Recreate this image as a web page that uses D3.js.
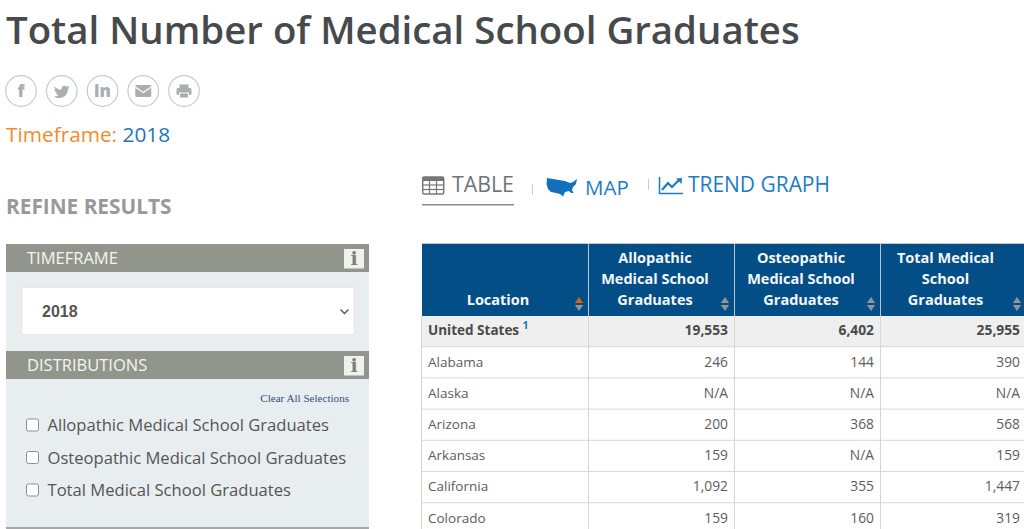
<!DOCTYPE html>
<html>
<head>
<meta charset="utf-8">
<script src="https://cdn.jsdelivr.net/npm/d3@7"></script>
<style>
  html, body { margin: 0; padding: 0; background: #fff; overflow: hidden; }
  svg { display: block; }
  text { font-family: "Open Sans", sans-serif; }
</style>
</head>
<body>
<script>
// Table values
const locations = ['United States', 'Alabama', 'Alaska', 'Arizona', 'Arkansas', 'California', 'Colorado'];
const allopathic = [19553, 246, null, 200, 159, 1092, 159];
const osteopathic = [6402, 144, null, 368, null, 355, 160];
const totalGraduates = [25955, 390, null, 568, 159, 1447, 319];

const columnTitles = [
  ['Location'],
  ['Allopathic', 'Medical School', 'Graduates'],
  ['Osteopathic', 'Medical School', 'Graduates'],
  ['Total Medical', 'School', 'Graduates']
];
const filterOptions = ['Allopathic Medical School Graduates', 'Osteopathic Medical School Graduates', 'Total Medical School Graduates'];

const width = 1024, height = 529;
const svg = d3.select('body').append('svg').attr('width', width).attr('height', height);

const label = (parent, x, y, str, size, fill, weight, anchor) =>
  parent.append('text').attr('x', x).attr('y', y).text(str)
    .attr('font-size', size).attr('fill', fill)
    .attr('font-weight', weight || 400).attr('text-anchor', anchor || 'start');

// Title
label(svg, 6, 44, 'Total Number of Medical School Graduates', 38.4, '#464a4c', 600);

// Share buttons
const iconGrey = '#a9aeb1';
const shareX = d3.scaleLinear().domain([0, 4]).range([21, 184]);
const share = svg.append('g');
share.selectAll('circle').data(d3.range(5)).join('circle')
  .attr('cx', d => shareX(d)).attr('cy', 91).attr('r', 15.3)
  .attr('fill', '#fff').attr('stroke', '#c8cbcc').attr('stroke-width', 1.2);
label(share, shareX(0), 97, 'f', 17, iconGrey, 800, 'middle');
share.append('path')
  .attr('transform', `translate(${shareX(1)},91)`)
  .attr('fill', iconGrey)
  .attr('d', 'M-7.5,-4.5 C-5.5,-2.5 -3,-1.4 -0.4,-1.3 C-0.9,-4.4 2.8,-6.6 5,-4.3 C6,-4.5 6.8,-4.9 7.5,-5.3 C7.2,-4.4 6.7,-3.7 6,-3.1 C6.7,-3.2 7.3,-3.4 8,-3.7 C7.5,-2.9 6.8,-2.3 6.1,-1.8 C6.3,3 2.5,7 -2.5,7 C-4.5,7 -6.3,6.4 -8,5.4 C-6,5.6 -4.2,5.1 -2.9,4 C-4.5,4 -5.7,3 -6.2,1.6 C-5.6,1.7 -5.1,1.7 -4.6,1.5 C-6.2,1.2 -7.4,-0.3 -7.3,-2 C-6.8,-1.7 -6.3,-1.6 -5.8,-1.6 C-7.3,-2.6 -7.8,-4 -7.5,-4.5 Z');
label(share, shareX(2), 97, 'in', 17, iconGrey, 800, 'middle');
share.append('rect').attr('x', shareX(3) - 8).attr('y', 85).attr('width', 16).attr('height', 12).attr('rx', 1.5).attr('fill', iconGrey);
share.append('path').attr('d', `M${shareX(3) - 8},87 L${shareX(3)},92.5 L${shareX(3) + 8},87`).attr('fill', 'none').attr('stroke', '#fff').attr('stroke-width', 1.3);
share.append('rect').attr('x', shareX(4) - 7.5).attr('y', 88).attr('width', 15).attr('height', 7).attr('rx', 1.5).attr('fill', iconGrey);
share.append('rect').attr('x', shareX(4) - 4.5).attr('y', 84.5).attr('width', 9).attr('height', 4).attr('fill', iconGrey);
share.append('rect').attr('x', shareX(4) - 4.5).attr('y', 93).attr('width', 9).attr('height', 5).attr('fill', iconGrey).attr('stroke', '#fff');

// Timeframe line
const tf = svg.append('text').attr('x', 6).attr('y', 142).attr('font-size', 20.8);
tf.append('tspan').attr('fill', '#f58a2c').text('Timeframe: ');
tf.append('tspan').attr('fill', '#1b75bb').text('2018');

label(svg, 6, 214, 'REFINE RESULTS', 20.8, '#999', 700);

// Filter panel
const panelX = 6, panelW = 363;
svg.append('rect').attr('x', panelX).attr('y', 272).attr('width', panelW).attr('height', 257).attr('fill', '#e8edef');
svg.append('rect').attr('x', panelX).attr('y', 527).attr('width', panelW).attr('height', 2).attr('fill', '#a5a8a4');
const panelHeads = [{ name: 'TIMEFRAME', y: 244 }, { name: 'DISTRIBUTIONS', y: 351 }];
panelHeads.forEach(h => {
  svg.append('rect').attr('x', panelX).attr('y', h.y).attr('width', panelW).attr('height', 28).attr('fill', '#92958c');
  label(svg, 27, h.y + 20, h.name, 16.5, '#f5f5f2');
  svg.append('rect').attr('x', 344).attr('y', h.y + 5).attr('width', 20).attr('height', 19.5).attr('fill', '#eff1ee');
  label(svg, 354, h.y + 21, 'i', 19, '#7d807a', 700, 'middle').style('font-family', '"DejaVu Serif", serif');
});

// Select box
svg.append('rect').attr('x', 22).attr('y', 287.5).attr('width', 332).attr('height', 47).attr('fill', '#fff').attr('stroke', '#efe6da');
label(svg, 42, 317, '2018', 16, '#555', 700).style('font-family', '"Liberation Sans", sans-serif');
svg.append('path').attr('d', 'M340.5,309.5 L344.5,313.5 L348.5,309.5').attr('fill', 'none').attr('stroke', '#555').attr('stroke-width', 1.4);

label(svg, 349, 402, 'Clear All Selections', 11.1, '#34507a', 400, 'end').style('font-family', '"Liberation Serif", serif');

const optionY = d3.scalePoint().domain(filterOptions).range([425, 490]);
const options = svg.append('g').selectAll('g').data(filterOptions).join('g');
options.append('rect').attr('x', 26.5).attr('y', d => optionY(d) - 6).attr('width', 12).attr('height', 12).attr('rx', 2)
  .attr('fill', '#fff').attr('stroke', '#8f8f8f');
options.append('text').attr('x', 47.5).attr('y', d => optionY(d) + 6).text(d => d)
  .attr('font-size', 16.6).attr('fill', '#555');

// Tabs
const tabBlue = '#1b7cc6';
const grid = svg.append('g').attr('transform', 'translate(422,176)');
grid.append('rect').attr('x', 0.7).attr('y', 1).attr('width', 21).attr('height', 17).attr('rx', 1.5).attr('fill', '#fff').attr('stroke', '#777').attr('stroke-width', 1.5);
grid.append('rect').attr('x', 0.7).attr('y', 1).attr('width', 21).attr('height', 4).attr('fill', '#777');
[7.5, 14.5].forEach(x => grid.append('line').attr('x1', x).attr('x2', x).attr('y1', 1).attr('y2', 18).attr('stroke', '#777').attr('stroke-width', 1.2));
[9, 13.5].forEach(y => grid.append('line').attr('x1', 1).attr('x2', 21).attr('y1', y).attr('y2', y).attr('stroke', '#777').attr('stroke-width', 1.2));
label(svg, 452, 192, 'TABLE', 21.3, '#6f7477');
svg.append('rect').attr('x', 422).attr('y', 204).attr('width', 92).attr('height', 1.5).attr('fill', '#8a8f92');
svg.append('rect').attr('x', 532).attr('y', 184).attr('width', 1).attr('height', 11).attr('fill', '#ccc');
svg.append('rect').attr('x', 648).attr('y', 179).attr('width', 1).attr('height', 11).attr('fill', '#ccc');
// rough outline of the lower 48 for the map tab
svg.append('path').attr('fill', '#1270bd')
  .attr('d', 'M547,178 L565,181 L570,183 L573,182 L577,179 L576,184 L573,187 L572,190 L573.5,193 L571,193 L569,191 L565,192 L563,196.5 L560,194 L556,193 L551,192 L548,189 L546.5,184 Z');
label(svg, 585, 195, 'MAP', 20.5, tabBlue);
svg.append('path').attr('d', 'M659.5,177 V193.5 H683').attr('fill', 'none').attr('stroke', tabBlue).attr('stroke-width', 1.5);
svg.append('path').attr('d', 'M662,190 L668,183 L672,187 L680,179').attr('fill', 'none').attr('stroke', tabBlue).attr('stroke-width', 2.2);
svg.append('path').attr('d', 'M676,178.5 L682,178 L681.5,184 Z').attr('fill', tabBlue);
label(svg, 688, 191.5, 'TREND GRAPH', 20.95, tabBlue);

// Table
const columnEdges = [422, 589, 735, 881, 1027];
const headTop = 244, headBottom = 316, rowHeight = 31.2;
const fmt = d3.format(',');
const cell = v => (v === null ? 'N/A' : fmt(v));
const series = [allopathic, osteopathic, totalGraduates];

const rowY = d3.scaleBand().domain(locations).range([headBottom, headBottom + rowHeight * locations.length]);
const colX = i => columnEdges[i];

const headBlue = '#034e87';
svg.append('rect').attr('x', colX(0)).attr('y', headTop).attr('width', width - colX(0)).attr('height', headBottom - headTop).attr('fill', headBlue);
svg.append('line').attr('x1', colX(0)).attr('x2', width).attr('y1', headTop - 0.5).attr('y2', headTop - 0.5).attr('stroke', '#c4c8cb');

// row backgrounds and rules
svg.append('rect').attr('x', colX(0)).attr('y', rowY(locations[0])).attr('width', width - colX(0)).attr('height', rowY.bandwidth()).attr('fill', '#efefef');
svg.append('g').selectAll('line').data(locations).join('line')
  .attr('x1', colX(0)).attr('x2', width)
  .attr('y1', d => rowY(d) + rowY.bandwidth() - 0.5).attr('y2', d => rowY(d) + rowY.bandwidth() - 0.5)
  .attr('stroke', '#d9d9d9');
svg.append('g').selectAll('line').data(columnEdges.slice(0, 4)).join('line')
  .attr('x1', d => d - 0.5).attr('x2', d => d - 0.5)
  .attr('y1', headBottom).attr('y2', height)
  .attr('stroke', '#d6d6d6');
svg.append('g').selectAll('line').data(columnEdges.slice(1, 4)).join('line')
  .attr('x1', d => d - 0.5).attr('x2', d => d - 0.5)
  .attr('y1', headTop).attr('y2', headBottom)
  .attr('stroke', '#b9c6d2');

// header labels
const headLine = 21;
columnTitles.forEach((lines, c) => {
  const mid = c === 0 ? 498 : (colX(c) + colX(c + 1)) / 2 - 7 + (c === 3 ? -1.5 : 0);
  lines.forEach((line, j) => {
    label(svg, mid, 305 - (lines.length - 1 - j) * headLine, line, 14.5, '#f4f7fa', 700, 'middle');
  });
  const ax = colX(c + 1) - 10;
  svg.append('path').attr('d', `M${ax - 4.2},303 L${ax},297 L${ax + 4.2},303 Z`).attr('fill', c === 0 ? '#d9601a' : '#8d949a');
  svg.append('path').attr('d', `M${ax - 4.2},305 L${ax},311 L${ax + 4.2},305 Z`).attr('fill', '#8d949a');
});

// rows
const rows = svg.append('g').selectAll('g').data(locations).join('g')
  .attr('transform', d => `translate(0,${rowY(d) + rowY.bandwidth() / 2 + 3.8})`);
rows.append('text').attr('x', 428).text(d => d)
  .attr('font-size', 13.5).attr('fill', (d, i) => (i === 0 ? '#4a4a4a' : '#5c5c5c'))
  .attr('font-weight', (d, i) => (i === 0 ? 700 : 400));
series.forEach((values, c) => {
  rows.append('text').attr('x', colX(c + 2) - 7).attr('text-anchor', 'end')
    .text((d, i) => cell(values[i]))
    .attr('font-size', 13.8).attr('fill', (d, i) => (i === 0 ? '#4a4a4a' : '#5c5c5c'))
    .attr('font-weight', (d, i) => (i === 0 ? 700 : 400));
});
label(svg, 522.5, 328.5, '1', 10.5, '#1b75bb', 700);
</script>
</body>
</html>
